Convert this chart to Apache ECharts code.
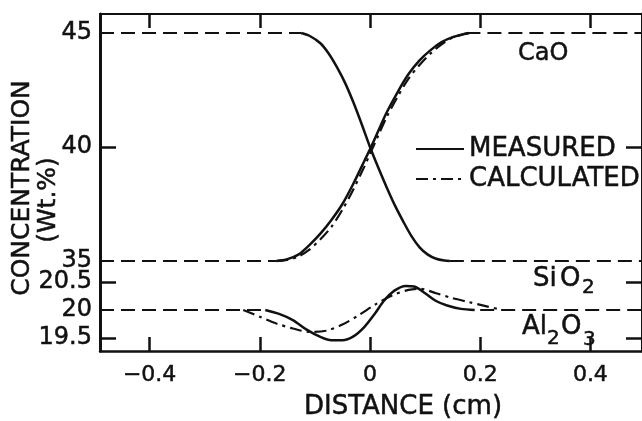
<!DOCTYPE html>
<html>
<head>
<meta charset="utf-8">
<script src="https://cdn.jsdelivr.net/npm/echarts@6/dist/echarts.min.js"></script>
<style>
  html, body { margin: 0; padding: 0; background: #fff; }
  #chart { width: 642px; height: 421px; }
</style>
</head>
<body>
<div id="chart"></div>
<script>
// Distance axis (cm)
const xMin = -0.49;
const xMax = 0.4937;
const xTicks = [-0.4, -0.2, 0, 0.2, 0.4];
const upperTicks = [35, 40, 45];
const lowerTicks = [19.5, 20, 20.5];

// CaO profile (Wt.%) vs distance (cm)
const caoMeasured = [
  [-0.17, 35.0], [-0.15, 35.08], [-0.13, 35.28], [-0.11, 35.7], [-0.09, 36.2],
  [-0.07, 36.8], [-0.05, 37.5], [-0.03, 38.4], [-0.01, 39.4], [0, 39.9],
  [0.015, 40.7], [0.03, 41.5], [0.05, 42.4], [0.07, 43.2], [0.09, 43.8],
  [0.11, 44.25], [0.13, 44.6], [0.15, 44.82], [0.17, 44.95], [0.18, 45.0]
];
const caoCalculated = [
  [-0.17, 35.0], [-0.15, 35.05], [-0.13, 35.2], [-0.11, 35.5], [-0.09, 35.95],
  [-0.07, 36.5], [-0.05, 37.25], [-0.03, 38.15], [-0.01, 39.15], [0, 39.7],
  [0.015, 40.5], [0.03, 41.3], [0.05, 42.2], [0.07, 43.0], [0.09, 43.6],
  [0.11, 44.1], [0.13, 44.5], [0.15, 44.8], [0.17, 44.95], [0.18, 45.0]
];

// SiO2 profile
const sio2Measured = [
  [-0.125, 45.0], [-0.11, 44.88], [-0.09, 44.55], [-0.075, 44.1], [-0.06, 43.5],
  [-0.045, 42.8], [-0.03, 41.95], [-0.015, 41.0], [0, 40.0], [0.015, 39.1],
  [0.03, 38.25], [0.045, 37.45], [0.06, 36.75], [0.075, 36.1], [0.09, 35.6],
  [0.105, 35.28], [0.12, 35.1], [0.135, 35.02], [0.145, 35.0]
];

// Al2O3 profile
const al2o3Measured = [
  [-0.19, 20.0], [-0.165, 19.93], [-0.14, 19.82], [-0.115, 19.65], [-0.09, 19.52],
  [-0.07, 19.46], [-0.05, 19.46], [-0.03, 19.53], [-0.01, 19.7], [0.01, 19.95],
  [0.025, 20.16], [0.045, 20.35], [0.065, 20.43], [0.08, 20.42], [0.1, 20.3],
  [0.12, 20.16], [0.14, 20.08], [0.165, 20.02], [0.19, 20.0]
];
const al2o3Calculated = [
  [-0.23, 20.0], [-0.2, 19.88], [-0.17, 19.76], [-0.14, 19.67], [-0.11, 19.61],
  [-0.08, 19.63], [-0.05, 19.74], [-0.02, 19.91], [0.01, 20.1], [0.04, 20.26],
  [0.07, 20.36], [0.09, 20.38], [0.12, 20.3], [0.15, 20.21], [0.18, 20.14],
  [0.21, 20.07], [0.24, 20.0]
];

// Initial (plateau) levels, drawn dashed outside the diffusion zone
const level45 = [[xMin, 45], [-0.125, 45], [0, '-'], [0.175, 45], [xMax, 45]];
const level35 = [[xMin, 35], [-0.17, 35], [0, '-'], [0.145, 35], [xMax, 35]];
const level20 = [[xMin, 20], [-0.19, 20], [0, '-'], [0.2, 20], [xMax, 20]];

const INK = '#111';
const FONT = 'DejaVu Sans';
const DASH_DOT = [12, 5, 3, 5];

const chart = echarts.init(document.getElementById('chart'), null, { renderer: 'canvas' });

function curve(name, data, xi, dashed) {
  return {
    name, type: 'line', data, xAxisIndex: xi, yAxisIndex: xi, symbol: 'none',
    smooth: 0.3, clip: false,
    itemStyle: { color: INK },
    lineStyle: { color: INK, width: dashed ? 2.2 : 2.5, type: dashed ? DASH_DOT : 'solid' },
    z: dashed ? 4 : 3
  };
}
function level(data, xi) {
  return { name: 'level', type: 'line', data, xAxisIndex: xi, yAxisIndex: xi, symbol: 'none',
    clip: false, itemStyle: { color: INK }, lineStyle: { color: INK, width: 2.2, type: [14, 7] }, z: 2 };
}
const labelText = { color: INK, fontFamily: FONT, textBorderColor: INK, textBorderWidth: 0.5 };

function xAxisDef(gridIndex, position, showLabel) {
  return {
    type: 'value', gridIndex, position, min: xMin, max: xMax,
    axisLine: { show: true, onZero: false, lineStyle: { color: INK, width: position === 'top' ? 2 : 2.5 } },
    axisTick: { show: true, inside: true, length: 14, customValues: xTicks, lineStyle: { color: INK, width: 2.5 } },
    splitLine: { show: false },
    axisLabel: showLabel ? Object.assign({ show: true, customValues: xTicks, margin: 13, fontSize: 22,
      formatter: v => (v < 0 ? '\u2212' + String(Math.abs(v)) : String(v)) }, labelText) : { show: false }
  };
}
function yAxisDef(gridIndex, position, min, max, tickVals, labelVals) {
  return {
    type: 'value', gridIndex, position, min, max,
    axisLine: { show: true, onZero: false, lineStyle: { color: INK, width: 3 } },
    axisTick: { show: true, inside: true, length: 16, customValues: tickVals, lineStyle: { color: INK, width: 2.5 } },
    splitLine: { show: false },
    axisLabel: labelVals ? Object.assign({ show: true, customValues: labelVals, margin: 8, fontSize: 24 }, labelText) : { show: false }
  };
}
function txt(text, x, y, size, align, rot) {
  return {
    type: 'text', x, y, rotation: rot || 0,
    style: { text, fill: INK, stroke: INK, lineWidth: 0.5, font: size + 'px "' + FONT + '"',
      textAlign: align || 'left', textVerticalAlign: 'middle' }
  };
}

const option = {
  animation: false,
  backgroundColor: '#fff',
  grid: [
    { left: 100, top: 14, width: 546, height: 256 },
    { left: 100, top: 270, width: 546, height: 81 }
  ],
  xAxis: [
    xAxisDef(0, 'top', false),
    xAxisDef(1, 'bottom', true)
  ],
  yAxis: [
    yAxisDef(0, 'left', 34.605, 45.833, [40], upperTicks),
    yAxisDef(1, 'left', 19.268, 20.714, [19.5, 20.5], lowerTicks),
    yAxisDef(0, 'right', 34.605, 45.833, [40], null),
    yAxisDef(1, 'right', 19.268, 20.714, [19.5, 20.5], null)
  ],
  legend: {
    data: ['MEASURED', 'CALCULATED'],
    orient: 'vertical', left: 410, top: 130,
    itemWidth: 48, itemHeight: 12, itemGap: 2,
    itemStyle: { opacity: 0 },
    textStyle: { color: INK, fontFamily: FONT, fontSize: 26, lineHeight: 28, textBorderColor: INK, textBorderWidth: 0.5 },
    inactiveColor: INK
  },
  graphic: [
    txt('CONCENTRATION', 22, 188, 25, 'center', Math.PI / 2),
    txt('(Wt.%)', 48, 200, 25, 'center', Math.PI / 2),
    txt('DISTANCE (cm)', 403, 407, 26, 'center'),
    txt('CaO', 518, 54, 24),
    // SiO2 with subscript
    txt('Si', 533, 279, 26),
    txt('O', 560, 279, 26),
    txt('2', 582, 288, 20),
    // Al2O3 with subscripts
    txt('Al', 522, 327, 26),
    txt('2', 547, 339, 20),
    txt('O', 561, 327, 26),
    txt('3', 583, 340, 20)
  ],
  series: [
    level(level45, 0),
    level(level35, 0),
    level(level20, 1),
    curve('MEASURED', caoMeasured, 0, false),
    curve('CALCULATED', caoCalculated, 0, true),
    curve('MEASURED', sio2Measured, 0, false),
    curve('MEASURED', al2o3Measured, 1, false),
    curve('CALCULATED', al2o3Calculated, 1, true)
  ]
};

chart.setOption(option);
</script>
</body>
</html>
